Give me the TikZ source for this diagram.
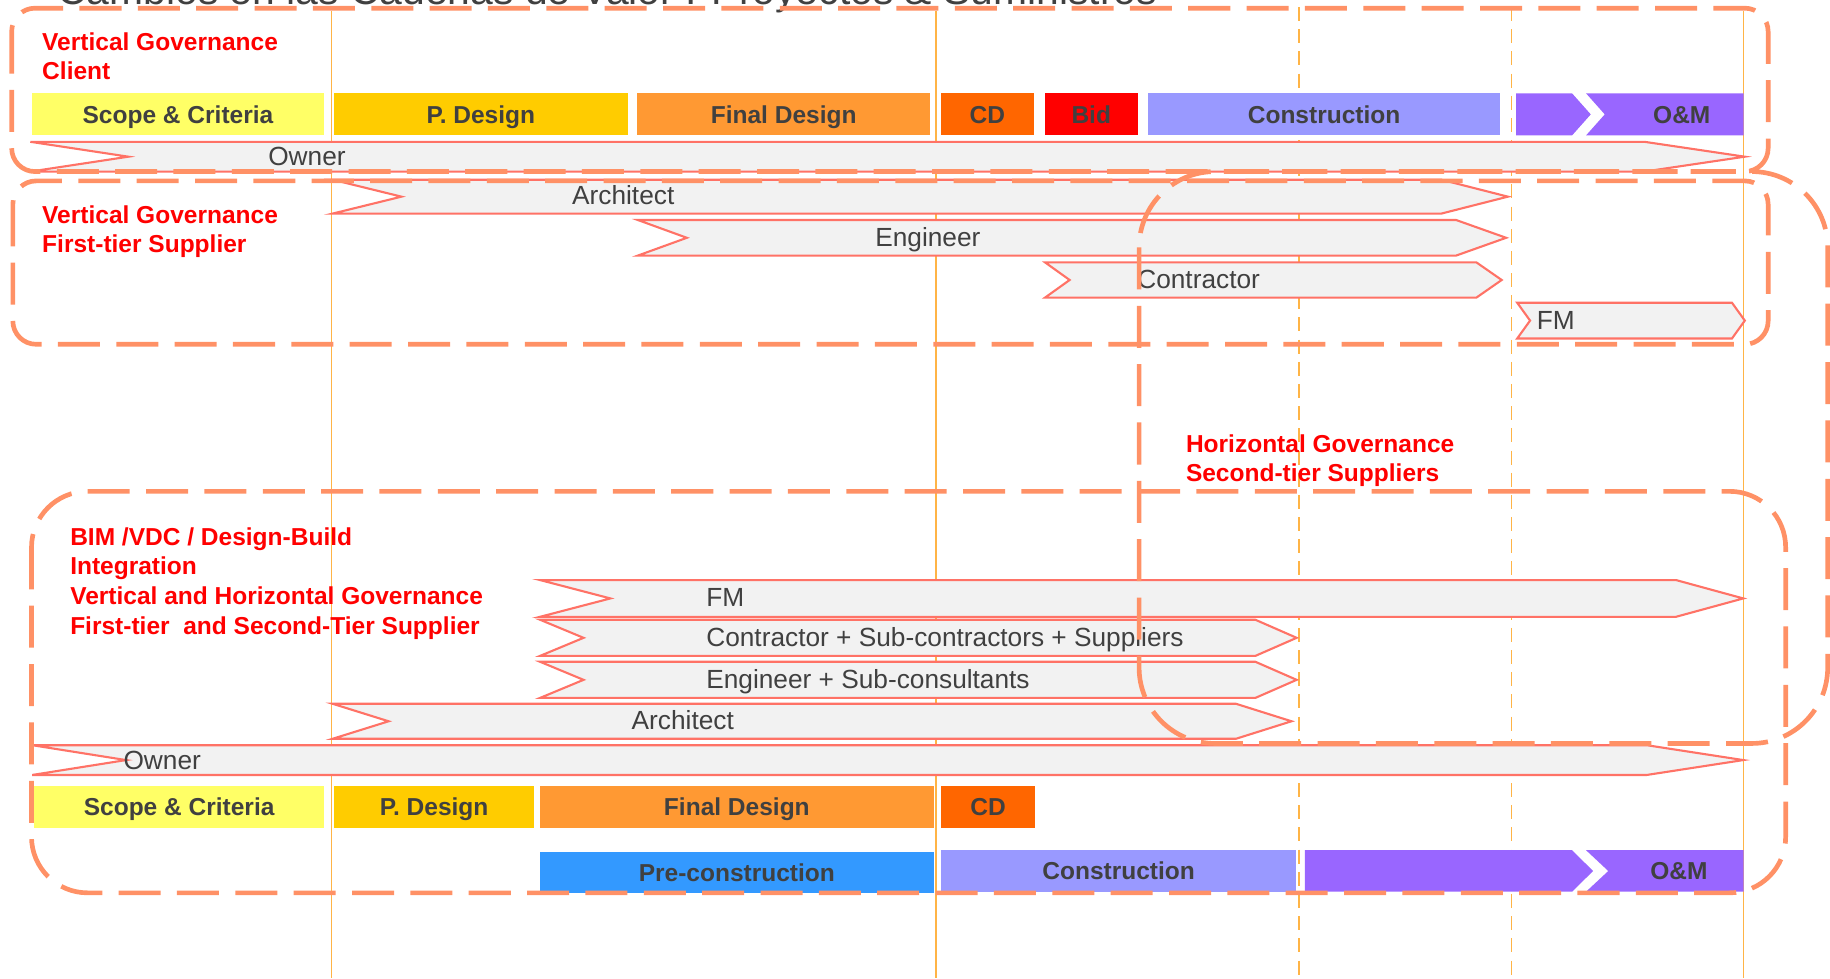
\documentclass[tikz,border=0pt]{standalone}
\usepackage{fontspec}
\setmainfont{Liberation Sans}
\definecolor{vcol}{RGB}{255,180,70}
\definecolor{boxcol}{RGB}{255,145,102}
\definecolor{arrline}{RGB}{255,114,102}
\definecolor{arrfill}{RGB}{242,242,242}
\definecolor{txt}{RGB}{64,64,64}
\definecolor{redtxt}{RGB}{255,0,0}
\definecolor{cscope}{HTML}{FFFF66}
\definecolor{cpdes}{HTML}{FFCC00}
\definecolor{cfinal}{HTML}{FF9933}
\definecolor{ccd}{HTML}{FF6600}
\definecolor{cbid}{HTML}{FF0000}
\definecolor{ccons}{HTML}{9999FF}
\definecolor{cpurp}{HTML}{9966FF}
\definecolor{cpre}{HTML}{3399FF}
\tikzset{
  vline/.style={draw=vcol, line width=1.2pt},
  vdash/.style={draw=vcol, line width=1.5pt, dash pattern=on 12pt off 7pt},
  phase/.style={inner sep=0pt, outer sep=0pt, text height=15pt, text depth=0pt,
    font=\fontsize{21}{25}\selectfont\bfseries, text=txt},
  bar/.style={fill=arrfill, draw=arrline, line width=1.8pt, line join=miter},
  barlbl/.style={font=\fontsize{22.5}{27}\selectfont, text=txt, inner sep=0pt,
    text height=16pt, text depth=0pt},
  dbox/.style={draw=boxcol, line width=4pt, dash pattern=on 36pt off 14pt},
  redlbl/.style={font=\fontsize{21}{25}\selectfont\bfseries, text=redtxt,
    inner sep=0pt, anchor=base west},
}
\newcommand{\arrowbar}[6]{%
  \path[bar] (#3,#1) -- (#5,#1) -- (#6,{(#1+#2)/2}) -- (#5,#2) -- (#3,#2)
    -- (#4,{(#1+#2)/2}) -- cycle;}
\begin{document}
\begin{tikzpicture}[x=1pt,y=-1pt]
\useasboundingbox (0,0) rectangle (1568,838);
\clip (0,0) rectangle (1568,838);

% title (cut off at the top)
\node[anchor=base west, inner sep=0pt, font=\fontsize{35}{40}\selectfont, text=txt]
  (title) at (49,3.5) {Cambios en las Cadenas de Valor : Proyectos \& Suministros};

% guide lines
\coordinate (g1t) at (284,9);    \coordinate (g1b) at (284,838);
\coordinate (g2t) at (802,9);    \coordinate (g2b) at (802,838);
\coordinate (g3t) at (1494,9);   \coordinate (g3b) at (1494,838);
\coordinate (d1t) at (1113,6);   \coordinate (d1b) at (1113,838);
\coordinate (d2t) at (1295,6);   \coordinate (d2b) at (1295,838);
\draw[vline] (g1t) -- (g1b);
\draw[vline] (g2t) -- (g2b);
\draw[vline] (g3t) -- (g3b);
\draw[vdash] (d1t) -- (d1b);
\draw[vdash] (d2t) -- (d2b);

% top phase row
\node[phase, fill=cscope, minimum width=251pt, minimum height=36pt] (ts) at (152.5,98) {Scope \& Criteria};
\node[phase, fill=cpdes, minimum width=252pt, minimum height=36pt] (tp) at (412,98) {P. Design};
\node[phase, fill=cfinal, minimum width=251pt, minimum height=36pt] (tf) at (671.5,98) {Final Design};
\node[phase, fill=ccd, minimum width=80pt, minimum height=36pt] (tcd) at (846,98) {CD};
\node[phase, fill=cbid, minimum width=80pt, minimum height=36pt] (tb) at (935,98) {Bid};
\node[phase, fill=ccons, minimum width=301pt, minimum height=36pt] (tc) at (1134.5,98) {Construction};
\fill[cpurp] (1299,80) -- (1347,80) -- (1363,98) -- (1347,116) -- (1299,116) -- cycle;
\fill[cpurp] (1359,80) -- (1494,80) -- (1494,116) -- (1359,116) -- (1375,98) -- cycle;
\node[phase] (tom) at (1441,98) {O\&M};

% top bars
\arrowbar{121.5}{147}{26}{110}{1409}{1495}
\node[barlbl] (towner) at (263,134) {Owner};
\arrowbar{154}{183}{285}{344}{1235}{1292}
\node[barlbl] (tarch) at (534,167) {Architect};
\arrowbar{188.5}{219}{546.5}{588.5}{1247.6}{1290.5}
\node[barlbl] (teng) at (795,203) {Engineer};
\arrowbar{224.8}{255}{895.4}{916.5}{1265}{1286.7}
\node[barlbl] (tcon) at (1027,239) {Contractor};
\arrowbar{259.4}{290}{1300}{1311}{1484}{1495}
\node[barlbl] (tfm) at (1333,274) {FM};

% lower bars
\arrowbar{497}{528.5}{462.7}{523}{1436}{1493.7}
\node[barlbl, anchor=west] (bfm) at (605,512) {FM};
\arrowbar{531}{562}{462.7}{500}{1075.6}{1111}
\node[barlbl, anchor=west] (bcon) at (605,546) {Contractor + Sub-contractors + Suppliers};
\arrowbar{567}{598}{462.7}{500}{1075.6}{1111}
\node[barlbl, anchor=west] (beng) at (605,582) {Engineer + Sub-consultants};
\arrowbar{603}{633}{285}{333}{1059}{1106.6}
\node[barlbl] (barch) at (585,617) {Architect};
\arrowbar{638.5}{664}{27.6}{108}{1411}{1493.7}
\node[barlbl] (bowner) at (139,651) {Owner};

% lower phase rows
\node[phase, fill=cscope, minimum width=249pt, minimum height=35.5pt] (bs) at (153.5,691.5) {Scope \& Criteria};
\node[phase, fill=cpdes, minimum width=171pt, minimum height=35.5pt] (bp) at (372,691.5) {P. Design};
\node[phase, fill=cfinal, minimum width=337.3pt, minimum height=35.5pt] (bf) at (631.35,691.5) {Final Design};
\node[phase, fill=ccd, minimum width=80.6pt, minimum height=35.5pt] (bcd) at (846.7,691.5) {CD};
\node[phase, fill=cpre, minimum width=337.3pt, minimum height=35.5pt] (bpre) at (631.35,747.5) {Pre-construction};
\node[phase, fill=ccons, minimum width=304.6pt, minimum height=35.5pt] (bc) at (958.5,746.3) {Construction};
\fill[cpurp] (1118,728.5) -- (1347,728.5) -- (1365,746.3) -- (1347,764) -- (1118,764) -- cycle;
\fill[cpurp] (1359,728.5) -- (1494,728.5) -- (1494,764) -- (1359,764) -- (1378,746.3) -- cycle;
\node[phase] (bom) at (1438.5,746.3) {O\&M};

% dashed governance boxes
\draw[dbox, rounded corners=20pt] (10,7) rectangle (1515,147);
\draw[dbox, rounded corners=20pt] (11,155) rectangle (1515,295);
\draw[dbox, rounded corners=65pt] (976,147) rectangle (1566,637);
\draw[dbox, rounded corners=48pt] (27,421) rectangle (1530,765);

% red labels
\node[redlbl] (l1a) at (36,43.5) {Vertical Governance};
\node[redlbl] (l1b) at (36,68.5) {Client};
\node[redlbl] (l2a) at (36,191.5) {Vertical Governance};
\node[redlbl] (l2b) at (36,216.5) {First-tier Supplier};
\node[redlbl] (l3a) at (1016,387.5) {Horizontal Governance};
\node[redlbl] (l3b) at (1016,412.5) {Second-tier Suppliers};
\node[redlbl] (l4a) at (60,467.5) {BIM /VDC / Design-Build};
\node[redlbl] (l4b) at (60,492.5) {Integration};
\node[redlbl] (l4c) at (60,518) {Vertical and Horizontal Governance};
\node[redlbl] (l4d) at (60,543.5) {First-tier\ \ and Second-Tier Supplier};
\end{tikzpicture}
\end{document}
